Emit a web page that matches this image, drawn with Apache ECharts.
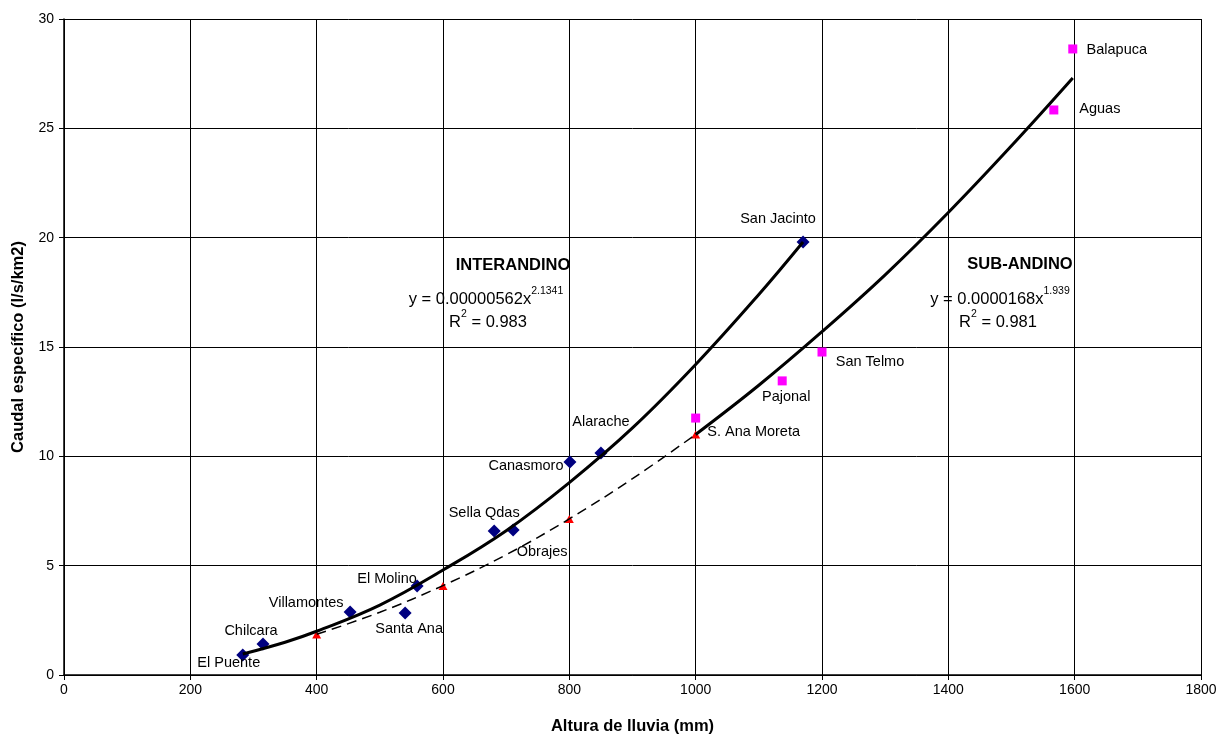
<!DOCTYPE html>
<html>
<head>
<meta charset="utf-8">
<script src="https://cdn.jsdelivr.net/npm/echarts@6/dist/echarts.min.js"></script>
<style>
html,body{margin:0;padding:0;background:#fff;}
#c{width:1221px;height:734px;}
</style>
</head>
<body>
<div id="c"></div>
<script>
// Interandino stations (navy diamonds)
const interNames = ['El Puente','Chilcara','Villamontes','Santa Ana','El Molino','Sella Qdas','Obrajes','Canasmoro','Alarache','San Jacinto'];
const interX = [283, 315, 453, 540, 559, 681, 711, 801, 850, 1170];
const interY = [0.91, 1.42, 2.88, 2.84, 4.07, 6.59, 6.63, 9.74, 10.15, 19.8];
const interOffsets = [[-14,8],[-12,-13],[-44,-9],[4,16],[-30,-7],[-10,-18],[29,22],[-44,4],[0,-31],[-25,-23]];

// Sub-andino stations (magenta squares)
const subNames = ['S. Ana Moreta','Pajonal','San Telmo','Aguas','Balapuca'];
const subX = [1000, 1137, 1200, 1567, 1597];
const subY = [11.75, 13.45, 14.77, 25.84, 28.63];
const subOffsets = [[58,14],[4,16],[48,10],[46,-1],[44,1]];

// Red triangles (sub-andino fit at lower rainfall)
const triX = [400, 600, 800, 1000];
const triY = [1.85, 4.07, 7.13, 11.0];

// Trend curves
const interCurveX = [283, 350, 400, 500, 600, 700, 800, 900, 1000, 1100, 1170];
const interCurveY = [0.96, 1.5, 2.0, 3.2, 4.8, 6.6, 8.8, 11.3, 14.2, 17.4, 19.8];
const subCurveX = [1000, 1100, 1200, 1300, 1400, 1500, 1597];
const subCurveY = [11.0, 13.25, 15.7, 18.3, 21.15, 24.2, 27.3];
const dashCurveX = [400, 500, 600, 700, 800, 900, 1000];
const dashCurveY = [1.86, 2.87, 4.09, 5.5, 7.14, 8.98, 11.0];

// Axis ticks
const xMin = 0, xMax = 1800, xStep = 200;
const yMin = 0, yMax = 30, yStep = 5;

const FONT = '"Liberation Sans", Arial, sans-serif';

function pts(xs, ys) { return xs.map((x, i) => [x, ys[i]]); }
function labeled(names, xs, ys, offs) {
  return names.map((n, i) => ({
    name: n, value: [xs[i], ys[i]],
    label: { show: true, formatter: n, position: 'inside', offset: offs[i],
      color: '#000', fontFamily: FONT, fontSize: 14.5, align: 'center', verticalAlign: 'middle' }
  }));
}

const chart = echarts.init(document.getElementById('c'), null, {renderer: 'canvas'});

const rich = {
  m: { fontFamily: FONT, fontSize: 16.5, color: '#000', verticalAlign: 'bottom', lineHeight: 22 },
  s: { fontFamily: FONT, fontSize: 10.5, color: '#000', verticalAlign: 'top', lineHeight: 22 }
};

chart.setOption({
  animation: false,
  backgroundColor: '#fff',
  grid: { left: 64, right: 20, top: 19, bottom: 59, containLabel: false, outerBoundsMode: 'none' },
  xAxis: {
    type: 'value', min: xMin, max: xMax, interval: xStep,
    name: 'Altura de lluvia (mm)', nameLocation: 'middle', nameGap: 43,
    nameTextStyle: { fontFamily: FONT, fontSize: 16.5, fontWeight: 'bold', color: '#000' },
    axisLine: { show: true, lineStyle: { color: '#000', width: 1.5 } },
    axisTick: { show: true, inside: false, length: 5, lineStyle: { color: '#000' } },
    axisLabel: { color: '#000', fontFamily: FONT, fontSize: 14, margin: 8, formatter: v => String(v) },
    splitLine: { show: true, lineStyle: { color: '#000', width: 1 } }
  },
  yAxis: {
    type: 'value', min: yMin, max: yMax, interval: yStep,
    name: 'Caudal específico (l/s/km2)', nameLocation: 'middle', nameGap: 37, nameRotate: 90,
    nameTextStyle: { fontFamily: FONT, fontSize: 16.5, fontWeight: 'bold', color: '#000' },
    axisLine: { show: true, lineStyle: { color: '#000', width: 1.5 } },
    axisTick: { show: true, inside: false, length: 5, lineStyle: { color: '#000' } },
    axisLabel: { color: '#000', fontFamily: FONT, fontSize: 14, margin: 10, formatter: v => String(v) },
    splitLine: { show: true, lineStyle: { color: '#000', width: 1 } }
  },
  series: [
    {
      type: 'scatter', name: 'Interandino', symbol: 'diamond', symbolSize: [13, 13],
      itemStyle: { color: '#000080', opacity: 1 }, z: 2,
      emphasis: { disabled: true },
      data: labeled(interNames, interX, interY, interOffsets)
    },
    {
      type: 'scatter', name: 'Sub-andino', symbol: 'rect', symbolSize: [9, 9],
      itemStyle: { color: '#ff00ff', opacity: 1 }, z: 2,
      emphasis: { disabled: true },
      data: labeled(subNames, subX, subY, subOffsets)
    },
    {
      type: 'scatter', name: 'Ajuste', symbol: 'triangle', symbolSize: [9, 8],
      itemStyle: { color: '#ff0000', opacity: 1 }, z: 2,
      emphasis: { disabled: true },
      data: pts(triX, triY)
    },
    {
      type: 'line', name: 'Tendencia Interandino', smooth: 0.4, symbol: 'none', z: 3,
      lineStyle: { color: '#000', width: 3 },
      data: pts(interCurveX, interCurveY)
    },
    {
      type: 'line', name: 'Tendencia Sub-andino', smooth: 0.4, symbol: 'none', z: 3,
      lineStyle: { color: '#000', width: 3 },
      data: pts(subCurveX, subCurveY)
    },
    {
      type: 'line', name: 'Extrapolación', smooth: 0.4, symbol: 'none', z: 3,
      lineStyle: { color: '#000', width: 1.5, type: [10, 6] },
      data: pts(dashCurveX, dashCurveY)
    }
  ],
  graphic: [
    { type: 'text', x: 513, y: 265, style: { text: 'INTERANDINO', fontFamily: FONT, fontSize: 16.5, fontWeight: 'bold', fill: '#000', align: 'center', verticalAlign: 'middle' } },
    { type: 'text', x: 486, y: 297, style: { text: '{m|y = 0.00000562x}{s|2.1341}', fontFamily: FONT, fill: '#000', align: 'center', verticalAlign: 'middle', rich: rich } },
    { type: 'text', x: 488, y: 320, style: { text: '{m|R}{s|2}{m| = 0.983}', fontFamily: FONT, fill: '#000', align: 'center', verticalAlign: 'middle', rich: rich } },
    { type: 'text', x: 1020, y: 264, style: { text: 'SUB-ANDINO', fontFamily: FONT, fontSize: 16.5, fontWeight: 'bold', fill: '#000', align: 'center', verticalAlign: 'middle' } },
    { type: 'text', x: 1000, y: 297, style: { text: '{m|y = 0.0000168x}{s|1.939}', fontFamily: FONT, fill: '#000', align: 'center', verticalAlign: 'middle', rich: rich } },
    { type: 'text', x: 998, y: 320, style: { text: '{m|R}{s|2}{m| = 0.981}', fontFamily: FONT, fill: '#000', align: 'center', verticalAlign: 'middle', rich: rich } }
  ]
});
</script>
</body>
</html>
